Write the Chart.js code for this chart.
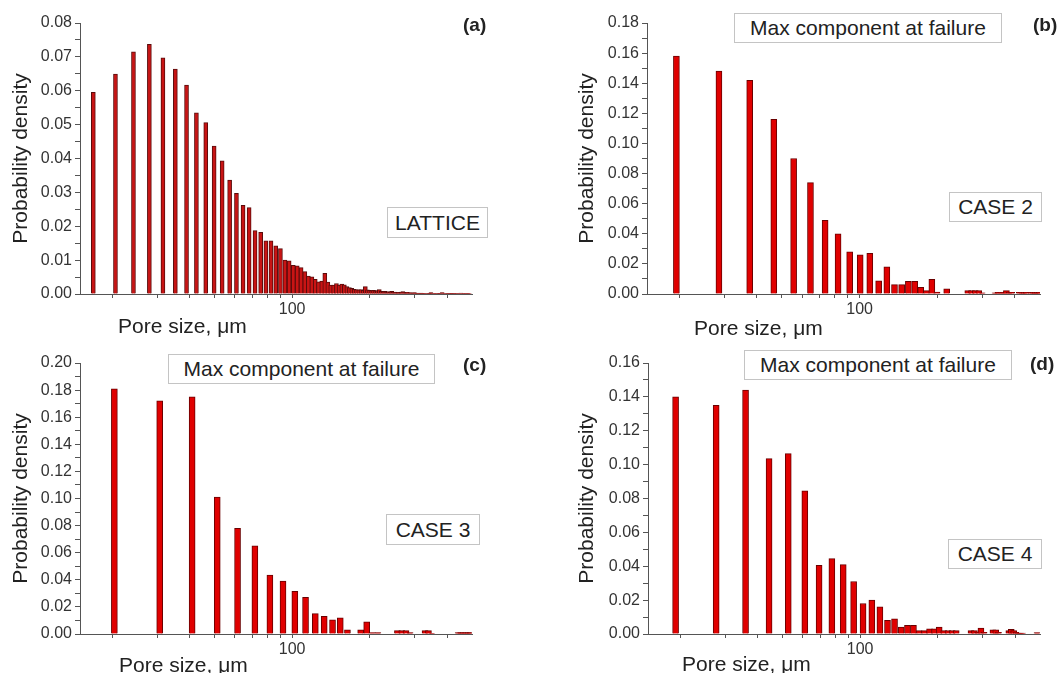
<!DOCTYPE html>
<html><head><meta charset="utf-8">
<script src="https://cdn.jsdelivr.net/npm/chart.js@4.4.1/dist/chart.umd.min.js"></script>
<style>
html,body{margin:0;padding:0;background:#fff;}
#wrap{width:1059px;height:673px;position:relative;overflow:hidden;font-family:"Liberation Sans",Arial,sans-serif;color:#222;background:#fff;}
canvas{position:absolute;}
.t{position:absolute;white-space:nowrap;font-size:21px;line-height:21px;z-index:5;}
.box{position:absolute;border:1px solid #c4c4c4;background:#fff;font-size:21px;display:flex;align-items:center;justify-content:center;box-sizing:border-box;white-space:nowrap;z-index:5;}
.lab{position:absolute;font-weight:bold;font-size:19px;line-height:19px;white-space:nowrap;z-index:5;}
</style></head>
<body>
<div id="wrap">
  <div class="t" style="left:118px;top:315px;">Pore size, μm</div>
  <div class="t" style="left:694px;top:317px;">Pore size, μm</div>
  <div class="t" style="left:119px;top:654px;">Pore size, μm</div>
  <div class="t" style="left:682px;top:653px;">Pore size, μm</div>
  <div class="lab" style="left:463px;top:15px;">(a)</div>
  <div class="lab" style="left:1033px;top:15px;">(b)</div>
  <div class="lab" style="left:463px;top:355px;">(c)</div>
  <div class="lab" style="left:1030px;top:354px;">(d)</div>
  <div class="box" style="left:387px;top:207px;width:101px;height:31px;">LATTICE</div>
  <div class="box" style="left:734px;top:13px;width:268px;height:30px;">Max component at failure</div>
  <div class="box" style="left:949px;top:192px;width:93px;height:30px;">CASE 2</div>
  <div class="box" style="left:168px;top:354px;width:267px;height:30px;">Max component at failure</div>
  <div class="box" style="left:386px;top:514px;width:94px;height:31px;">CASE 3</div>
  <div class="box" style="left:744px;top:350px;width:268px;height:30px;">Max component at failure</div>
  <div class="box" style="left:948px;top:539px;width:94px;height:30px;">CASE 4</div>
</div>
<script>
// ---- tick definitions ----
const xAxisTicks = [20,30,40,50,60,70,80,90,100,200,300,400];
const xAxisLabelled = [100];
const latticeYTicks = [0,0.01,0.02,0.03,0.04,0.05,0.06,0.07,0.08];
const case2YTicks = [0,0.02,0.04,0.06,0.08,0.10,0.12,0.14,0.16,0.18];
const case3YTicks = [0,0.02,0.04,0.06,0.08,0.10,0.12,0.14,0.16,0.18,0.20];
const case4YTicks = [0,0.02,0.04,0.06,0.08,0.10,0.12,0.14,0.16];

// ---- (a) LATTICE ----
const latticeSize = [16.9,20.6,24.2,27.9,31.5,35.2,38.9,42.5,46.2,49.8,
53.5,57.2,60.8,64.5,68.1,71.8,75.5,79.1,82.8,86.4,
90.1,93.8,97.4,101.1,104.7,108.4,112.1,115.7,119.4,123.0,
126.7,130.4,134.0,137.7,141.3,145.0,148.7,152.3,156.0,159.6,
163.3,167.0,170.6,174.3,177.9,181.6,185.3,188.9,192.6,196.2,
199.9,203.6,207.2,210.9,214.5,218.2,221.9,225.5,229.2,232.8,
236.5,240.2,243.8,247.5,251.1,254.8,258.5,262.1,265.8,269.4,
273.1,276.8,280.4,284.1,287.7,291.4,295.1,298.7,302.4,306.0,
309.7,313.4,317.0,320.7,324.3,328.0,331.7,335.3,339.0,342.6,
346.3,350.0,353.6,357.3,360.9,364.6,368.3,371.9,375.6,379.2,
382.9,386.6,390.2,393.9,397.5,401.2,404.9,408.5,412.2,415.8,
419.5,423.2,426.8,430.5,434.1,437.8,441.5,445.1,448.8,452.4,
456.1,459.8,463.4,467.1,470.7,474.4,478.1,481.7,485.4,489.0,492.7];
const latticeDensity = [0.0595,0.0649,0.0715,0.0737,0.0697,0.0664,0.0617,0.0535,0.0506,0.0437,
0.0393,0.0336,0.0297,0.0262,0.0255,0.0187,0.0182,0.0157,0.0157,0.0142,
0.0134,0.0100,0.0098,0.0085,0.0083,0.0078,0.0066,0.0053,0.0051,0.0043,
0.0036,0.0038,0.0061,0.0035,0.0026,0.0026,0.0031,0.0026,0.0029,0.0027,
0.0022,0.0019,0.0017,0.0014,0.0013,0.0012,0.0013,0.0011,0.0022,0.0012,
0.0011,0.0010,0.0011,0.0009,0.0010,0.0013,0.0008,0.0007,0.0008,0.0006,
0.0007,0.0005,0.0008,0.0005,0.0006,0.0004,0.0005,0.0004,0.0006,0.0007,
0.0004,0.0003,0.0005,0.0003,0.0004,0.0002,0.0003,0.0004,0.0002,0.0003,
0.0002,0.0001,0.0003,0.0002,0.0001,0.0002,0,0.0002,0.0001,0.0002,
0.0004,0.0001,0,0.0001,0.0002,0,0.0001,0.0002,0.0001,0,
0.0004,0.0001,0,0.0002,0,0.0001,0.0002,0,0.0001,0.0002,
0.0001,0,0.0002,0.0001,0,0.0001,0,0.0002,0,0.0003,
0,0.0001,0,0.0001,0,0.0001,0,0.0001,0,0.0001,0];

// ---- (b) CASE 2 ----
const case2Size = [19.5,28.5,37.5,46.5,55.5,64.5,73.5,82.5,91.5,100.5,
109.5,118.5,127.5,136.5,145.5,154.5,163.5,172.5,181.5,190.5,
199.5,208.5,217.5,226.5,235.5,244.5,253.5,262.5,271.5,280.5,
289.5,298.5,307.5,316.5,325.5,334.5,343.5,352.5,361.5,370.5,
379.5,388.5,397.5,406.5,415.5,424.5,433.5,442.5,451.5,460.5,
469.5,478.5,487.5,496.5];
const case2Density = [0.158,0.148,0.142,0.116,0.090,0.074,0.049,0.040,0.028,0.026,
0.027,0.0088,0.018,0.0062,0.0062,0.0084,0.0084,0.0044,0.0022,0.0097,
0.0013,0,0.0035,0,0,0,0,0.0022,0.0022,0.0022,
0.0022,0.0008,0,0,0,0.0008,0.0011,0.0011,0.0011,0.0022,
0.0011,0.0011,0,0,0.0011,0.0011,0.0011,0.0011,0,0.0011,
0.0011,0.0011,0.0011,0.0011];

// ---- (c) CASE 3 ----
const case3Size = [20.4,30.6,40.9,51.2,61.4,71.7,82.0,92.2,102.5,112.8,
123.1,133.3,143.6,153.9,164.1,174.4,184.7,194.9,205.2,215.5,
225.8,236.0,246.3,256.6,266.8,277.1,287.4,297.6,307.9,318.2,
328.5,338.7,349.0,359.3,369.6,379.8,390.1,400.4,410.6,420.9,
431.2,441.5,451.7,462.0,472.3,482.6,492.8];
const case3Density = [0.181,0.172,0.175,0.101,0.078,0.065,0.0435,0.039,0.0315,0.027,
0.015,0.013,0.0105,0.012,0.003,0,0.003,0.009,0.001,0.001,
0,0,0,0.0025,0.0025,0.0025,0.001,0,0,0,
0.0025,0.0025,0.0005,0,0,0,0,0,0,0,
0,0.001,0.001,0.001,0.001,0.001,0.001];

// ---- (d) CASE 4 ----
const case4Size = [19.2,27.6,35.9,44.3,52.6,61.0,69.3,77.7,86.0,94.4,
102.7,111.1,119.4,127.8,136.1,144.5,152.8,161.2,169.5,177.9,
186.2,194.6,202.9,211.3,219.6,228.0,236.3,244.7,253.0,261.4,
269.7,278.1,286.4,294.8,303.1,311.5,319.8,328.2,336.5,344.9,
353.2,361.6,369.9,378.3,386.6,395.0,403.3,411.7,420.0,428.4,
436.7,445.1,453.4,461.8,470.1,478.5,486.8,495.2];
const case4Density = [0.140,0.135,0.144,0.1035,0.1065,0.0845,0.0405,0.0445,0.041,0.031,
0.018,0.020,0.016,0.0081,0.009,0.0041,0.0051,0.0051,0.002,0.002,
0.0031,0.0031,0.0041,0.002,0.002,0.002,0.002,0,0,0,
0.002,0.002,0.001,0.0035,0.001,0,0,0.0025,0.0025,0.001,
0,0,0,0.002,0.0028,0.002,0.001,0.0005,0.0005,0.0005,
0,0,0,0,0,0,0.0008,0];

Chart.defaults.font.family = '"Liberation Sans", Arial, sans-serif';

function pairs(xs, ys){
  const out = [];
  const n = Math.min(xs.length, ys.length);
  for (let i = 0; i < n; i++) if (ys[i] > 0) out.push({x: xs[i], y: ys[i]});
  return out;
}

function makePanel(p){
  const cv = document.createElement('canvas');
  cv.width = p.w; cv.height = p.h;
  cv.style.left = p.left + 'px'; cv.style.top = p.top + 'px';
  cv.style.width = p.w + 'px'; cv.style.height = p.h + 'px';
  document.getElementById('wrap').appendChild(cv);
  const yAll = [];
  for (let i = 0; i < p.yTicks.length; i++) {
    yAll.push(p.yTicks[i]);
    if (i < p.yTicks.length - 1) yAll.push((p.yTicks[i] + p.yTicks[i+1]) / 2);
  }
  new Chart(cv.getContext('2d'), {
    type: 'bar',
    data: {datasets: [{
      data: pairs(p.sizes, p.dens),
      backgroundColor: p.fill, borderColor: p.border, borderWidth: 1,
      borderSkipped: 'start', barThickness: p.thick
    }]},
    options: {
      responsive: false, animation: false, devicePixelRatio: 1,
      layout: {padding: {left: 0, top: p.padTop, right: p.padRight, bottom: p.padBottom}},
      plugins: {legend: {display: false}, tooltip: {enabled: false}},
      scales: {
        x: {
          type: 'logarithmic', min: 15, max: 500, offset: false, bounds: 'data',
          grid: {display: true, drawOnChartArea: false, drawTicks: true, tickLength: 4, color: '#555', offset: false},
          border: {display: true, color: '#555', width: 1},
          ticks: {autoSkip: false, maxRotation: 0, minRotation: 0, padding: 2, color: '#333', font: {size: 16},
                  callback: (v) => xAxisLabelled.includes(v) ? String(v) : ''},
          afterBuildTicks: (s) => { s.ticks = xAxisTicks.map(v => ({value: v})); },
          afterFit: (s) => { s.height = p.xHeight; }
        },
        y: {
          type: 'linear', min: 0, max: p.yTicks[p.yTicks.length - 1],
          grid: {display: true, drawOnChartArea: false, drawTicks: true, tickLength: 5, color: '#555'},
          border: {display: true, color: '#555', width: 1},
          ticks: {autoSkip: false, padding: 3, color: '#333', font: {size: 16},
                  callback: (v) => p.yTicks.some(t => Math.abs(t - v) < 1e-9) ? Number(v).toFixed(2) : ''},
          afterBuildTicks: (s) => { s.ticks = yAll.map(v => ({value: v})); },
          afterFit: (s) => { s.width = p.yWidth; },
          title: {display: true, text: 'Probability density', color: '#222', font: {size: 21},
                  padding: {top: p.yTitlePad, bottom: 0}}
        }
      }
    }
  });
}

makePanel({left: 0, top: 0, w: 500, h: 340, yWidth: 80, padTop: 23, padRight: 28, padBottom: 6, xHeight: 40,
  yTitlePad: 9, yTicks: latticeYTicks, sizes: latticeSize, dens: latticeDensity, thick: 4, fill: '#c81414', border: '#5a0c0c'});
makePanel({left: 540, top: 0, w: 519, h: 340, yWidth: 107, padTop: 23, padRight: 19, padBottom: 6, xHeight: 40,
  yTitlePad: 35, yTicks: case2YTicks, sizes: case2Size, dens: case2Density, thick: 6, fill: '#e00000', border: '#6a0000'});
makePanel({left: 0, top: 340, w: 500, h: 333, yWidth: 80, padTop: 23, padRight: 28, padBottom: 6, xHeight: 33,
  yTitlePad: 9, yTicks: case3YTicks, sizes: case3Size, dens: case3Density, thick: 6, fill: '#e00000', border: '#6a0000'});
makePanel({left: 540, top: 340, w: 519, h: 333, yWidth: 108, padTop: 23, padRight: 19, padBottom: 6, xHeight: 33,
  yTitlePad: 35, yTicks: case4YTicks, sizes: case4Size, dens: case4Density, thick: 6, fill: '#e00000', border: '#6a0000'});
</script>
</body></html>
